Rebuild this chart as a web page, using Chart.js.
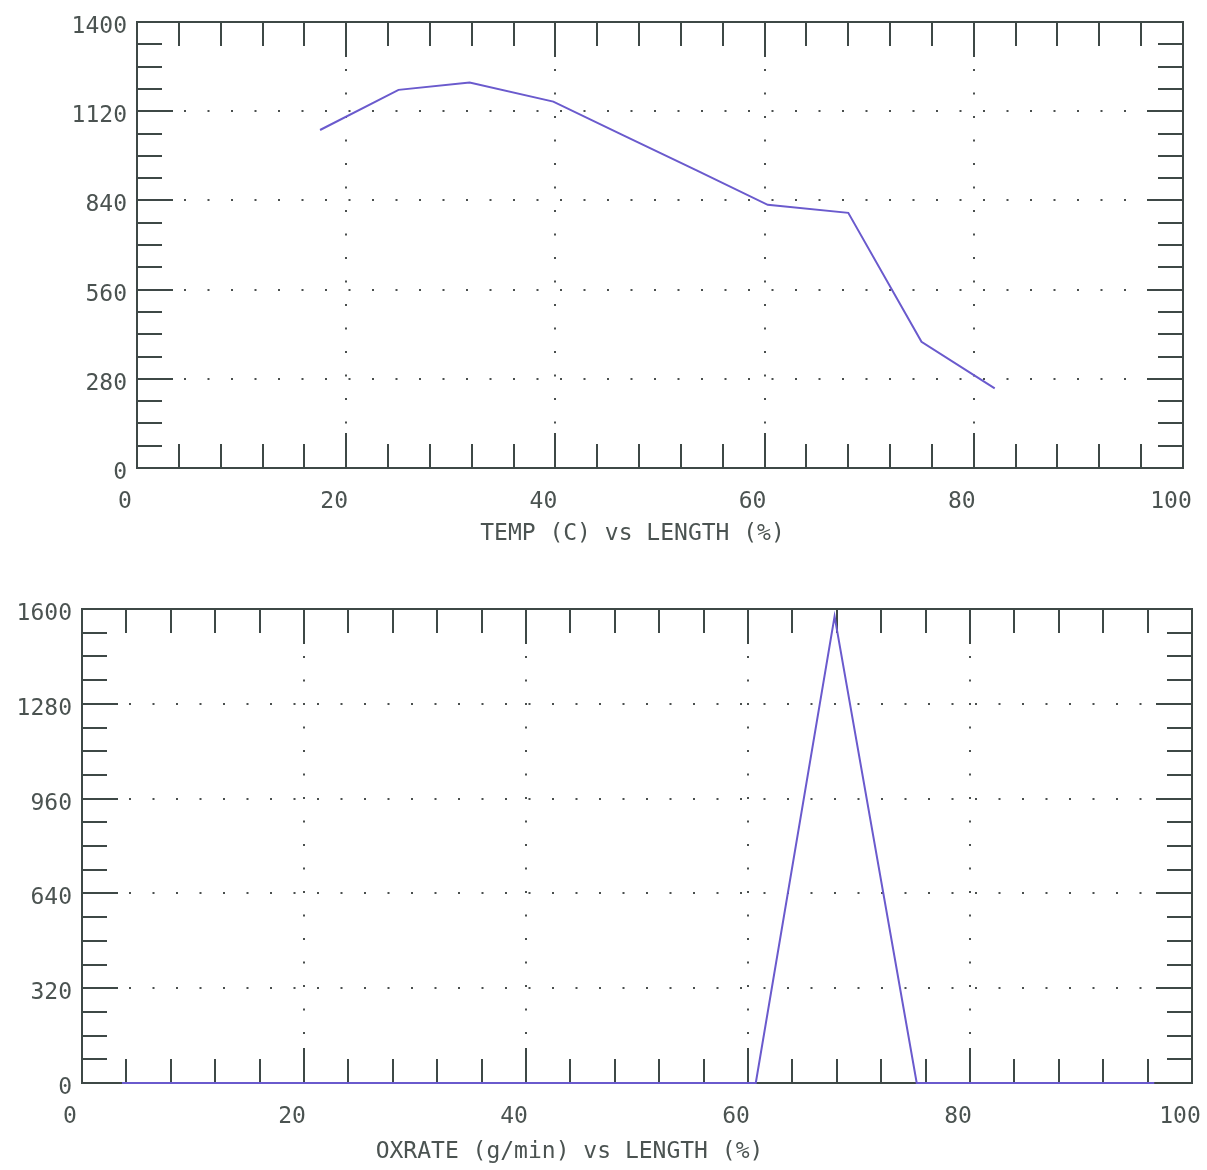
<!DOCTYPE html>
<html><head><meta charset="utf-8">
<script src="https://cdn.jsdelivr.net/npm/chart.js@4/dist/chart.umd.min.js"></script>
<style>
html,body{margin:0;padding:0;background:#fff;width:1207px;height:1170px;overflow:hidden}
canvas{position:absolute;left:0}
#c1{top:0}
#c2{top:560px}
</style></head><body>
<canvas id="c1" width="1207" height="560"></canvas>
<canvas id="c2" width="1207" height="610"></canvas>
<script>
// ---- data ----
const lengthTicks = [0, 20, 40, 60, 80, 100];
const tempTicks = [0, 280, 560, 840, 1120, 1400];
const oxTicks = [0, 320, 640, 960, 1280, 1600];

const tempLength = [17.5, 25.0, 31.8, 39.8, 46.5, 53.5, 60.3, 68.0, 75.0, 82.0];
const tempValues = [1061, 1187, 1210, 1150, 1044, 934, 826, 801, 396, 250];

const oxLength = [3.6, 10.8, 17.9, 25.1, 32.3, 39.4, 46.6, 53.8, 60.7, 67.8, 75.2, 82.4, 89.6, 96.6];
const oxValues = [0, 0, 0, 0, 0, 0, 0, 0, 0, 1575, 0, 0, 0, 0];

const tempTitle = 'TEMP (C) vs LENGTH (%)';
const oxTitle = 'OXRATE (g/min) vs LENGTH (%)';

// ---- style ----
const AXIS = '#3e4846', TEXT = '#4b5351', LINE = '#6a5acd', DOT = '#4a4f4e';
const FAMILY = "'DejaVu Sans Mono', 'Liberation Mono', monospace";
const FONT = {family: FAMILY, size: 23};

const frame = {
  id: 'frame',
  beforeDatasetsDraw(chart, args, o) {
    const {ctx, chartArea: a, scales: {x, y}} = chart;
    ctx.save();
    ctx.strokeStyle = AXIS; ctx.lineWidth = 2; ctx.lineCap = 'butt';
    ctx.beginPath();
    const nx = Math.round((x.max - x.min) / o.xMinor);
    for (let k = 1; k < nx; k++) {
      const v = x.min + k * o.xMinor;
      const px = Math.round(x.getPixelForValue(v));
      const major = (k * o.xMinor) % o.xMajor === 0;
      const len = major ? 35 : 24;
      ctx.moveTo(px, a.bottom); ctx.lineTo(px, a.bottom - len);
      ctx.moveTo(px, a.top); ctx.lineTo(px, a.top + len);
    }
    const ny = Math.round((y.max - y.min) / o.yMinor);
    for (let k = 1; k < ny; k++) {
      const v = y.min + k * o.yMinor;
      const py = Math.round(y.getPixelForValue(v));
      const major = (k * o.yMinor) % o.yMajor === 0;
      const len = major ? 36 : 25;
      ctx.moveTo(a.left, py); ctx.lineTo(a.left + len, py);
      ctx.moveTo(a.right, py); ctx.lineTo(a.right - len, py);
    }
    ctx.stroke();
    ctx.strokeRect(a.left, a.top, a.right - a.left, a.bottom - a.top);
    ctx.restore();
  },
  afterDraw(chart, args, o) {
    const {ctx} = chart;
    ctx.save();
    ctx.fillStyle = TEXT;
    ctx.font = '23px ' + FAMILY;
    ctx.textAlign = 'center';
    ctx.textBaseline = 'middle';
    ctx.fillText(o.title, o.titleX, o.titleY);
    ctx.restore();
  }
};

function makeChart(id, xs, ys, yTicks, yMinor, title, g) {
  const xMin = lengthTicks[0], xMax = lengthTicks[lengthTicks.length - 1];
  const yMin = yTicks[0], yMax = yTicks[yTicks.length - 1];
  return new Chart(document.getElementById(id), {
    type: 'line',
    data: {
      datasets: [{
        data: xs.map((v, i) => ({x: v, y: ys[i]})),
        borderColor: LINE, borderWidth: 2, pointRadius: 0, tension: 0,
        fill: false, clip: false
      }]
    },
    options: {
      responsive: false, animation: false, devicePixelRatio: 1,
      layout: {padding: {left: 0, top: g.top, right: g.W - g.right, bottom: 0}},
      plugins: {
        legend: {display: false}, tooltip: {enabled: false},
        frame: {xMinor: 4, xMajor: 20, yMinor: yMinor, yMajor: yMinor * 4,
                title: title, titleX: g.titleX, titleY: g.titleY}
      },
      scales: {
        x: {
          type: 'linear', min: xMin, max: xMax,
          afterBuildTicks: s => { s.ticks = lengthTicks.map(v => ({value: v})); },
          ticks: {color: TEXT, font: FONT, padding: 20, labelOffset: -12,
                  maxRotation: 0, autoSkip: false, callback: v => String(v)},
          grid: {drawTicks: false, color: DOT, lineWidth: 2},
          border: {display: false, dash: [2, 21.5]},
          afterFit: s => { s.height = g.H - g.bottom; s.paddingLeft = 0; s.paddingRight = 0; }
        },
        y: {
          type: 'linear', min: yMin, max: yMax,
          afterBuildTicks: s => { s.ticks = yTicks.map(v => ({value: v})); },
          ticks: {color: TEXT, font: FONT, padding: 10, labelOffset: 5, autoSkip: false,
                  callback: v => String(v)},
          grid: {drawTicks: false, color: DOT, lineWidth: 2},
          border: {display: false, dash: [2, 21.5]},
          afterFit: s => { s.width = g.left; s.paddingTop = 0; s.paddingBottom = 0; }
        }
      }
    },
    plugins: [frame]
  });
}

makeChart('c1', tempLength, tempValues, tempTicks, 70, tempTitle,
  {W: 1207, H: 560, left: 137, top: 22, right: 1183, bottom: 468, titleX: 632.5, titleY: 534});
makeChart('c2', oxLength, oxValues, oxTicks, 80, oxTitle,
  {W: 1207, H: 610, left: 82, top: 49, right: 1192, bottom: 523, titleX: 569.5, titleY: 592.5});
</script>
</body></html>
